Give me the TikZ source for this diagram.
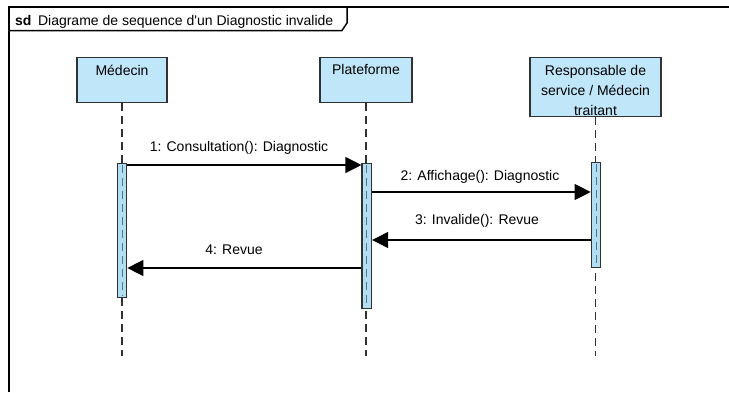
\documentclass[tikz,border=0pt]{standalone}
\usepackage{fontspec}
\setmainfont{Liberation Sans}
\usetikzlibrary{arrows.meta}
\definecolor{headfill}{RGB}{192,230,250}
\definecolor{barfill}{RGB}{178,222,244}
\definecolor{edge}{RGB}{50,50,50}
\definecolor{innerdash}{RGB}{80,120,140}

\begin{document}
\begin{tikzpicture}[x=1pt,y=-1pt,
  every node/.style={font=\fontsize{14}{20}\selectfont, inner sep=0pt},
  frameline/.style={line width=1.5pt, black},
  headbox/.style={draw=edge, line width=1.2pt, fill=headfill, anchor=north, minimum height=45pt},
  actbar/.style={draw=edge, line width=1.2pt, fill=barfill, anchor=north, minimum width=9.5pt},
  lifeline/.style={edge, line width=1.3pt, dash pattern=on 8pt off 5pt},
  barline/.style={innerdash, line width=1pt, dash pattern=on 8pt off 5pt},
  msg/.style={line width=1.2pt, black, -{Triangle[length=16pt,width=16pt]}},
  msglabel/.style={anchor=base}
]
\useasboundingbox (0,0) rectangle (729,392);

% diagram frame with its name tab
\draw[frameline] (9,392) -- (9,7) -- (729,7);
\draw[frameline] (9,30.5) -- (342,30.5) -- (347,23) -- (347,7);
\node[anchor=base west] (title) at (15,25) {\textbf{sd}\hspace{6.5pt}Diagrame de sequence d\textquotesingle un Diagnostic invalide};

% lifeline heads
\node[headbox, minimum width=90pt] (hM) at (122,57) {};
\node[headbox, minimum width=92pt] (hP) at (366,57) {};
\node[headbox, minimum width=131pt, minimum height=59pt] (hR) at (595.5,57) {};
\node[anchor=base] (tM) at (hM.north |- 0,75.5) {Médecin};
\node[anchor=base] (tP) at (hP.north |- 0,74.5) {Plateforme};
\node[anchor=north, align=center] (tR) at (595.5,64.8) {Responsable de\\service / Médecin\\traitant};

% lifelines
\coordinate (eM) at (122,356);
\coordinate (eP) at (366,356);
\coordinate (eR) at (595.5,356);
\draw[lifeline] (hM.south) -- (eM);
\draw[lifeline] (hP.south) -- (eP);
\draw[lifeline] (hR.south) -- (eR);

% activation bars
\node[actbar, minimum height=134pt] (bM) at (122,163) {};
\node[actbar, minimum height=145pt] (bP) at (366.8,163) {};
\node[actbar, minimum height=105pt] (bR) at (596,162) {};
\draw[barline] ([yshift=-2pt]bM.north) -- ([yshift=2pt]bM.south);
\draw[barline] ([yshift=-2pt]bP.north) -- ([yshift=2pt]bP.south);
\draw[barline] ([yshift=-2pt]bR.north) -- ([yshift=2pt]bR.south);

% message levels
\coordinate (y1) at (0,165);
\coordinate (y2) at (0,192);
\coordinate (y3) at (0,240);
\coordinate (y4) at (0,268);

% messages
\draw[msg] (bM.east |- y1) -- (bP.west |- y1);
\draw[msg] (bP.east |- y2) -- (bR.west |- y2);
\draw[msg] (bR.west |- y3) -- (bP.east |- y3);
\draw[msg] (bP.west |- y4) -- (bM.east |- y4);

\node[msglabel] (l1) at (239,151) {1: Consultation(): Diagnostic};
\node[msglabel] (l2) at (480,180) {2: Affichage(): Diagnostic};
\node[msglabel] (l3) at (477,224) {3: Invalide(): Revue};
\node[msglabel] (l4) at (234,254) {4: Revue};
\end{tikzpicture}
\end{document}
